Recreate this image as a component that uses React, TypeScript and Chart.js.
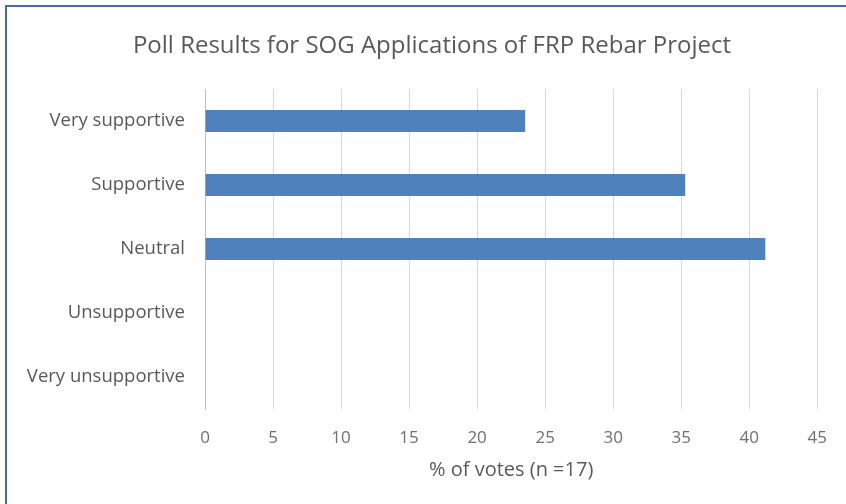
import React, { useEffect, useRef } from "react";
import { Chart, registerables } from "chart.js";

Chart.register(...registerables);

const categories = ["Very supportive", "Supportive", "Neutral", "Unsupportive", "Very unsupportive"];
const votePercent = [23.53, 35.29, 41.18, 0, 0];
const xTicks = [0, 5, 10, 15, 20, 25, 30, 35, 40, 45];
const titleText = "Poll Results for SOG Applications of FRP Rebar Project";
const xAxisTitle = "% of votes (n =17)";

const FONT = "'Open Sans', Lato, sans-serif";
const TEXT = "#595959";

const titlePlugin = {
  id: "offsetTitle",
  afterDraw(chart: any) {
    const ctx = chart.ctx;
    ctx.save();
    ctx.font = `24px ${FONT}`;
    ctx.fillStyle = TEXT;
    ctx.textAlign = "center";
    ctx.textBaseline = "middle";
    ctx.fillText(titleText, 425, 39);
    ctx.restore();
  },
};

export default function App() {
  const ref = useRef<HTMLCanvasElement>(null);
  useEffect(() => {
    if (!ref.current) return;
    const chart = new Chart(ref.current, {
      type: "bar",
      data: {
        labels: categories,
        datasets: [
          {
            data: votePercent,
            backgroundColor: "#4f81bd",
            borderWidth: 0,
            barPercentage: 0.68,
            categoryPercentage: 0.5,
          },
        ],
      },
      plugins: [titlePlugin],
      options: {
        indexAxis: "y",
        animation: false,
        responsive: false,
        devicePixelRatio: 1,
        layout: { padding: { left: 8, right: 26, top: 82, bottom: 0 } },
        plugins: {
          legend: { display: false },
          tooltip: { enabled: false },
          title: { display: false },
        },
        scales: {
          x: {
            min: 0,
            max: 45,
            afterBuildTicks: (s: any) => {
              s.ticks = xTicks.map((v) => ({ value: v }));
            },
            afterFit: (s: any) => {
              s.height = 95;
            },
            grid: { color: "#d9d9d9", drawTicks: false, lineWidth: 1 },
            border: { display: false },
            ticks: {
              color: "#6f6f6f",
              font: { family: FONT, size: 17 },
              padding: 19,
              maxRotation: 0,
            },
            title: {
              display: true,
              text: xAxisTitle,
              color: TEXT,
              font: { family: FONT, size: 20 },
              padding: { top: 0, bottom: 22 },
            },
          },
          y: {
            afterFit: (s: any) => {
              s.width = 190;
            },
            grid: { display: false, drawTicks: false },
            border: { display: true, color: "#bfbfbf" },
            ticks: {
              color: TEXT,
              font: { family: FONT, size: 18.5 },
              padding: 20,
            },
          },
        },
      },
    });
    return () => chart.destroy();
  }, []);

  return (
    <div
      style={{
        position: "absolute",
        left: 5,
        top: 5,
        width: 841,
        height: 499,
        borderLeft: "2px solid #4a6aa3",
        borderTop: "2px solid #4a6aa3",
        background: "#fff",
      }}
    >
      <canvas ref={ref} width={839} height={497} style={{ display: "block" }} />
    </div>
  );
}
